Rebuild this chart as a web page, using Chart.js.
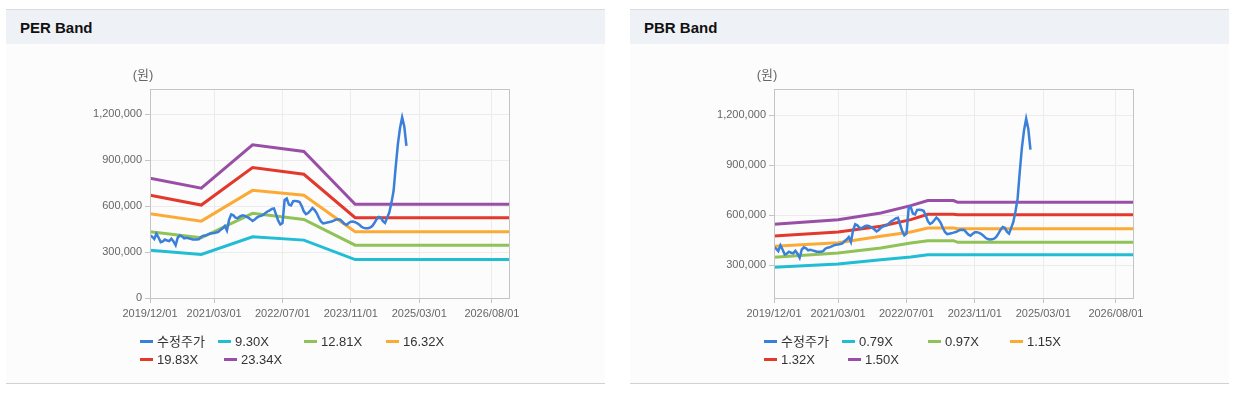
<!DOCTYPE html>
<html lang="ko">
<head>
<meta charset="utf-8">
<script src="https://cdn.jsdelivr.net/npm/chart.js@4.4.1/dist/chart.umd.min.js"></script>
<style>
  body { margin: 0; background: #fff; font-family: Arial, "Liberation Sans", "Noto Sans CJK KR", sans-serif; }
  .panel { position: absolute; top: 9px; width: 599px; background: #fcfcfc;
           border-top: 1px solid #dcdcdc; border-bottom: 1px solid #d2d2d2; }
  .head { height: 34px; line-height: 36px; padding-left: 14px; background: #eef2f7;
          font-weight: bold; font-size: 15px; color: #111; }
  .body { position: relative; height: 339px; }
  .body canvas { position: absolute; left: 0; top: 0; }
  .lg { position: absolute; font-size: 13px; line-height: 16px; color: #333; white-space: nowrap; }
  .lg i { display: inline-block; width: 13px; height: 3px; vertical-align: middle; margin: -2px 4px 0 0; }
</style>
</head>
<body>

<div class="panel" style="left:6px">
  <div class="head">PER Band</div>
  <div class="body"><canvas id="perChart" width="599" height="339"></canvas><div id="perLegend"></div></div>
</div>

<div class="panel" style="left:630px">
  <div class="head">PBR Band</div>
  <div class="body"><canvas id="pbrChart" width="599" height="339"></canvas><div id="pbrLegend"></div></div>
</div>

<script>
/* ─── DATA ────────────────────────────────────────────── */

// x axis is in months counted from 2019/12 (0) to 2026/12 (84)
const xTickMonths = [0, 15, 31, 47, 63, 80]
const xTickLabels = ['2019/12/01', '2021/03/01', '2022/07/01', '2023/11/01', '2025/03/01', '2026/08/01']
const X_MAX = 84

// 수정주가, sampled every half month from 2019/12
const PRICE_STEP = 0.5
const price = [
  410000, 400000, 385000, 420000, 395000, 365000, 370000, 382000, 375000, 372000,
  387000, 370000, 345000, 395000, 408000, 402000, 390000, 393000, 390000, 386000,
  382000, 382000, 382000, 385000, 400000, 406000, 408000, 414000, 420000, 423000,
  425000, 428000, 432000, 445000, 455000, 470000, 440000, 510000, 546000, 540000,
  525000, 522000, 531000, 538000, 538000, 532000, 525000, 515000, 503000, 512000,
  525000, 533000, 537000, 542000, 555000, 565000, 572000, 582000, 585000, 545000,
  505000, 480000, 490000, 640000, 650000, 610000, 605000, 633000, 634000, 632000,
  627000, 600000, 565000, 548000, 555000, 570000, 587000, 575000, 555000, 525000,
  500000, 487000, 490000, 493000, 496000, 500000, 505000, 512000, 514000, 512000,
  498000, 484000, 478000, 490000, 498000, 499000, 495000, 488000, 478000, 465000,
  458000, 455000, 456000, 460000, 470000, 490000, 513000, 530000, 525000, 502000,
  490000, 525000, 560000, 623000, 700000, 860000, 1005000, 1110000, 1180000, 1120000,
  994000,
]

// PER band
const perLabels = ['수정주가', '9.30X', '12.81X', '16.32X', '19.83X', '23.34X']
const perMonths = [0, 12, 24, 36, 48, 84]
const per930  = [312000, 284000, 400000, 378000, 251000, 251000]
const per1281 = [433000, 393000, 553000, 513000, 345000, 345000]
const per1632 = [551000, 502000, 703000, 671000, 433000, 433000]
const per1983 = [671000, 607000, 852000, 808000, 524000, 524000]
const per2334 = [782000, 717000, 1001000, 957000, 612000, 612000]
const perYTicks = [0, 300000, 600000, 900000, 1200000]

// PBR band
const pbrLabels = ['수정주가', '0.79X', '0.97X', '1.15X', '1.32X', '1.50X']
const pbrMonths = [0, 15, 25, 32, 36, 42, 43, 84]
const pbr079 = [288000, 308000, 334000, 350000, 363000, 364000, 364000, 364000]
const pbr097 = [348000, 374000, 404000, 434000, 448000, 448000, 438000, 438000]
const pbr115 = [414000, 436000, 474000, 500000, 524000, 524000, 520000, 520000]
const pbr132 = [476000, 500000, 534000, 574000, 606000, 606000, 603000, 603000]
const pbr150 = [546000, 574000, 614000, 658000, 689000, 689000, 678000, 678000]
const pbrYTicks = [300000, 600000, 900000, 1200000]

/* ─── STYLE ───────────────────────────────────────────── */
const COLORS = ['#3a7fd9', '#21bdd4', '#8fc257', '#fbab35', '#e2392c', '#9a4fa6']
const FONT   = 'Arial, "Liberation Sans", "Noto Sans CJK KR", sans-serif'
const GRID   = '#ececec'
const FRAME  = '#c4c4c4'
const TICK   = '#666'

// legend slots: [left, row]
const LEGEND_POS = [[134, 0], [212, 0], [298, 0], [380, 0], [134, 1], [218, 1]]

/* ─── HELPERS ─────────────────────────────────────────── */
const pricePoints = price.map((v, i) => ({ x: i * PRICE_STEP, y: v }))
const toPoints = (months, vals) => months.map((m, i) => ({ x: m, y: vals[i] }))

const frameBox = {
  id: 'frameBox',
  afterDatasetsDraw(chart) {
    const { ctx, chartArea: a } = chart
    ctx.save()
    ctx.strokeStyle = FRAME
    ctx.lineWidth = 1
    ctx.strokeRect(Math.round(a.left) + 0.5, Math.round(a.top) + 0.5,
                   Math.round(a.right - a.left), Math.round(a.bottom - a.top))
    ctx.restore()
  },
}

const unitLabel = {
  id: 'unitLabel',
  afterDraw(chart) {
    const { ctx, chartArea: a } = chart
    ctx.save()
    ctx.font = '13px ' + FONT
    ctx.fillStyle = TICK
    ctx.textAlign = 'center'
    ctx.textBaseline = 'middle'
    ctx.fillText('(원)', a.left - 7, a.top - 14)
    ctx.restore()
  },
}

const buildLegend = (el, labels) => {
  el.innerHTML = labels.map((lab, i) => {
    const [left, row] = LEGEND_POS[i]
    return `<div class="lg" style="left:${left}px;top:${290 + row * 18}px">` +
           `<i style="background:${COLORS[i]}"></i>${lab}</div>`
  }).join('')
}

const buildChart = (canvasId, legendId, labels, bandMonths, bands, yMin, yMax, yTicks) => {
  const datasets = [{
    label: labels[0], data: pricePoints, borderColor: COLORS[0], borderWidth: 2.5,
  }].concat(bands.map((vals, i) => ({
    label: labels[i + 1], data: toPoints(bandMonths, vals), borderColor: COLORS[i + 1], borderWidth: 3,
  })))

  datasets.forEach(d => Object.assign(d, { pointRadius: 0, fill: false, tension: 0 }))

  new Chart(document.getElementById(canvasId), {
    type: 'line',
    data: { datasets },
    options: {
      responsive: false,
      animation: false,
      events: [],
      layout: { padding: { top: 45, left: 0, right: 96, bottom: 55 } },
      plugins: { legend: { display: false }, tooltip: { enabled: false } },
      scales: {
        x: {
          type: 'linear', min: 0, max: X_MAX,
          afterFit: s => { s.height = 30 },
          afterBuildTicks: s => { s.ticks = xTickMonths.map(v => ({ value: v })) },
          ticks: {
            autoSkip: false, maxRotation: 0, padding: 4, color: TICK,
            font: { family: FONT, size: 11 },
            callback: (v, i) => xTickLabels[i],
          },
          grid: { color: GRID, tickColor: FRAME, tickLength: 5 },
          border: { color: FRAME },
        },
        y: {
          min: yMin, max: yMax,
          afterFit: s => { s.width = 144 },
          afterBuildTicks: s => { s.ticks = yTicks.map(v => ({ value: v })) },
          ticks: {
            padding: 3, color: TICK,
            font: { family: FONT, size: 11 },
            callback: v => v.toLocaleString('en-US'),
          },
          grid: { color: GRID, tickColor: FRAME, tickLength: 5 },
          border: { color: FRAME },
        },
      },
    },
    plugins: [frameBox, unitLabel],
  })

  buildLegend(document.getElementById(legendId), labels)
}

/* ─── RENDER ──────────────────────────────────────────── */
buildChart('perChart', 'perLegend', perLabels, perMonths,
           [per930, per1281, per1632, per1983, per2334], 0, 1365000, perYTicks)

buildChart('pbrChart', 'pbrLegend', pbrLabels, pbrMonths,
           [pbr079, pbr097, pbr115, pbr132, pbr150], 104000, 1358000, pbrYTicks)
</script>
</body>
</html>
